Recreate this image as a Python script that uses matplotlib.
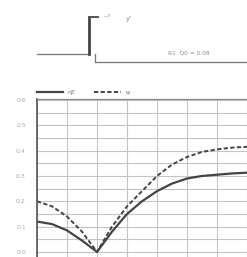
import matplotlib
matplotlib.use("Agg")
import matplotlib.pyplot as plt
import numpy as np

# data
x_vals = [0, 0.5, 1, 1.5, 2, 2.5, 3, 3.5, 4, 4.5, 5, 5.5, 6, 6.5, 7]
eta_E = [0.12, 0.11, 0.085, 0.045, 0.0, 0.08, 0.15, 0.20, 0.24, 0.27, 0.29, 0.30, 0.305, 0.31, 0.313]
psi = [0.20, 0.18, 0.14, 0.08, 0.0, 0.10, 0.18, 0.24, 0.30, 0.345, 0.375, 0.395, 0.405, 0.412, 0.415]
y_ticks = [0.0, 0.1, 0.2, 0.3, 0.4, 0.5, 0.6]
y_tick_labels = ["0.0", "0.1", "0.2", "0.3", "0.4", "0.5", "0.6"]
legend_labels = ["ηE", "ψ"]

# step profile for the top sketch (pixel-like coords)
profile_left_x = [37, 89, 89, 98]
profile_left_y = [54, 54, 17, 17]
profile_right_x = [95, 95, 247]
profile_right_y = [54, 62, 62]
annotation = "R1  Q0 = 0.08"

W, H = 247, 257
fig = plt.figure(figsize=(W / 100, H / 100), dpi=100)
fig.patch.set_facecolor("white")

# top sketch
ax0 = fig.add_axes([0, 0, 1, 1])
ax0.set_xlim(0, W)
ax0.set_ylim(H, 0)
ax0.axis("off")
ax0.plot(profile_left_x[:2], profile_left_y[:2], color="#777777", lw=0.9)
ax0.plot(profile_left_x[1:3], profile_left_y[1:3], color="#444444", lw=2.0)
ax0.plot(profile_left_x[2:], profile_left_y[2:], color="#555555", lw=1.4)
ax0.plot(profile_right_x, profile_right_y, color="#777777", lw=0.9)
ax0.text(102, 17, "~?", fontsize=4.5, color="#999999", va="center", ha="left")
ax0.text(126, 19, "y'", fontsize=5, color="#888888", va="center", ha="left")
ax0.text(168, 53, annotation, fontsize=4.2, color="#888888", va="center", ha="left")

# main plot
ax = fig.add_axes([37 / W, 0, 1 - 37 / W, 158 / H])
ax.set_xlim(0, 7)
ax.set_ylim(-0.02, 0.604)
ax.plot(x_vals, eta_E, color="#444444", lw=1.6, label=legend_labels[0])
ax.plot(x_vals, psi, color="#444444", lw=1.4, ls=(0, (2.2, 1.2)), label=legend_labels[1])
ax.set_yticks(y_ticks)
ax.set_yticklabels(y_tick_labels, fontsize=4.5, color="#aaaaaa")
ax.set_yticks(np.arange(0.05, 0.6, 0.1), minor=True)
ax.set_xticks(range(0, 8))
ax.set_xticklabels([])
ax.tick_params(axis="both", which="both", length=0, pad=8)
ax.grid(True, which="both", color="#c4c4c4", lw=0.8)
for s in ["right", "bottom"]:
    ax.spines[s].set_visible(False)
ax.spines["left"].set_color("#555555")
ax.spines["top"].set_color("#888888")
ax.spines["left"].set_linewidth(1.2)
ax.spines["top"].set_linewidth(0.9)

leg = ax.legend(loc="lower left", bbox_to_anchor=(-0.005, 1.02), ncol=2, frameon=False,
                fontsize=4.5, handlelength=4.2, columnspacing=3.0, handletextpad=0.8,
                borderaxespad=0.0, borderpad=0.1)
for t in leg.get_texts():
    t.set_color("#777777")

fig.savefig("out.png", dpi=100)
